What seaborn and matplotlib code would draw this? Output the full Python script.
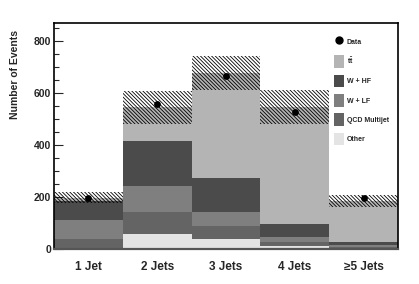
import matplotlib
matplotlib.use("Agg")
import matplotlib.pyplot as plt
import seaborn as sns
import numpy as np
import pandas as pd
from matplotlib.lines import Line2D
from matplotlib.patches import Patch

categories = ["1 Jet", "2 Jets", "3 Jets", "4 Jets", "≥5 Jets"]
other = [3, 58, 38, 12, 3]
qcd = [35, 84, 49, 17, 5]
wlf = [75, 101, 56, 19, 8]
whf = [70, 174, 132, 48, 11]
ttbar = [14, 128, 402, 450, 158]
uncert = [21, 63, 66, 67, 23]
data = [197, 559, 665, 527, 198]

sns.set_theme(style="ticks")
plt.rcParams['font.family'] = ['Liberation Sans', 'DejaVu Sans']
plt.rcParams['hatch.linewidth'] = 0.6
plt.rcParams['mathtext.fontset'] = 'custom'
plt.rcParams['mathtext.bf'] = 'Liberation Sans:bold'
plt.rcParams['mathtext.rm'] = 'Liberation Sans'

layers = [("Other", other, "#e4e4e4"), ("QCD Multijet", qcd, "#646464"),
          ("W + LF", wlf, "#7f7f7f"), ("W + HF", whf, "#4b4b4b"),
          (r"$\mathbf{t\bar{t}}$", ttbar, "#b4b4b4")]

rows = []
cum = np.zeros(len(categories))
for name, vals, col in layers:
    cum = cum + np.array(vals, dtype=float)
    for c, v in zip(categories, cum):
        rows.append({"cat": c, "layer": name, "cum": v})
df = pd.DataFrame(rows)
total = cum

fig = plt.figure(figsize=(4.19, 2.84), dpi=100)
ax = fig.add_axes([0.129, 0.123, 0.821, 0.797])

for name, vals, col in reversed(layers):
    sub = df[df.layer == name]
    sns.barplot(data=sub, x="cat", y="cum", color=col, width=1.0, ax=ax,
                saturation=1, linewidth=0, order=categories)

xpos = np.arange(len(categories))
unc = np.array(uncert, dtype=float)
ax.bar(xpos, 2 * unc, bottom=total - unc, width=1.0, fill=False,
       hatch='\\' * 9, linewidth=0, edgecolor='black')

sns.scatterplot(x=xpos, y=data, color="black", s=24, ax=ax, zorder=5,
                edgecolor="black", linewidth=0)

ax.set_xlim(-0.5, 4.5)
ax.set_ylim(0, 870)
ax.set_yticks([0, 200, 400, 600, 800])
ax.set_yticks(np.arange(0, 870, 50), minor=True)
ax.tick_params(axis='y', which='major', direction='in', length=6.5, width=0.8,
               labelsize=7.5, pad=2, right=False)
ax.tick_params(axis='y', which='minor', direction='in', length=3.5, width=0.8)
ax.tick_params(axis='x', length=0, labelsize=8.5, pad=8.5)
for lab in ax.get_xticklabels() + ax.get_yticklabels():
    lab.set_fontweight('bold')
ax.set_xlabel("")
ax.set_ylabel("Number of Events", fontsize=7.5, fontweight='bold')
ax.yaxis.label.set_horizontalalignment('right')
ax.yaxis.set_label_coords(-0.10, 0.97)
for s in ax.spines.values():
    s.set_visible(True)
    s.set_linewidth(1.2)
    s.set_color('black')
ax.spines['bottom'].set_color('#555555')
ax.spines['bottom'].set_linewidth(1.6)

handles = [Line2D([0], [0], marker='o', color='black', linestyle='None', markersize=5)]
labels = ["Data"]
for name, vals, col in reversed(layers):
    handles.append(Patch(facecolor=col, edgecolor='none'))
    labels.append(name)
leg = ax.legend(handles, labels, loc='upper left', bbox_to_anchor=(0.81, 0.948),
                frameon=False, fontsize=5, handlelength=1.4, handleheight=2.4,
                labelspacing=0.98, handletextpad=0.45, borderaxespad=0,
                borderpad=0.2)
for t in leg.get_texts():
    t.set_fontweight('bold')

fig.savefig("out.png", dpi=100)
